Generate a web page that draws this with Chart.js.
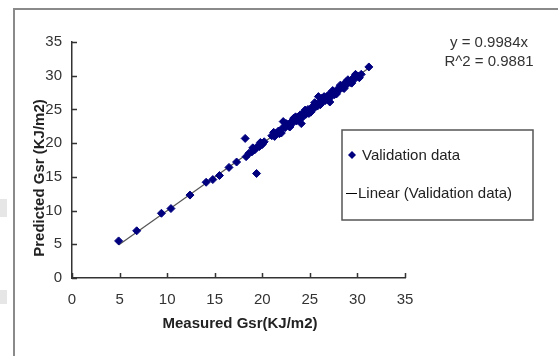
<!DOCTYPE html>
<html>
<head>
<meta charset="utf-8">
<script src="https://cdn.jsdelivr.net/npm/chart.js@4.4.1/dist/chart.umd.min.js"></script>
<style>
  html, body { margin: 0; padding: 0; background: #fff; }
  #wrap { width: 558px; height: 356px; position: relative; }
</style>
</head>
<body>
<div id="wrap"><canvas id="scatterChart" width="558" height="356"></canvas></div>
<script>
// measured vs predicted Gsr (KJ/m2)
const measured = [
  4.9, 6.8, 9.4, 10.4, 12.4, 14.1, 14.8, 15.5, 16.5, 17.3, 18.2, 19.4,
  18.3, 18.6, 18.9, 19.2, 19.4, 19.7, 20.0, 20.2, 21.0, 21.3,
  21.5, 21.7, 21.9, 22.1, 22.2, 22.4, 22.6, 22.8, 23.0, 23.2, 23.4, 23.6,
  23.8, 24.0, 24.1, 24.2, 24.4, 24.6, 24.8, 25.0, 25.2, 25.4, 25.6, 25.8,
  25.9, 26.0, 26.2, 26.4, 26.6, 26.8, 27.0, 27.1, 27.3, 27.5, 27.7, 27.9,
  28.1, 28.3, 28.5, 28.7, 28.9, 29.1, 29.3, 29.5, 29.7, 29.9, 30.1, 30.4,
  31.2,
  21.2, 21.8, 22.5, 22.9, 23.3, 23.9, 24.5, 25.1, 25.5, 26.1, 26.5, 26.9,
  27.4, 27.8, 28.2, 28.6, 29.0, 29.4, 29.8, 30.2, 22.0, 23.5, 24.9, 26.3,
  27.6, 28.8, 19.0, 19.8
];
const predicted = [
  5.5, 7.0, 9.6, 10.3, 12.3, 14.2, 14.6, 15.2, 16.4, 17.2, 20.7, 15.5,
  18.0, 18.5, 18.7, 19.0, 19.4, 19.5, 19.8, 20.2, 21.1, 21.0,
  21.5, 21.8, 21.6, 22.2, 23.2, 22.3, 22.8, 22.5, 23.1, 23.0, 23.6, 23.3,
  23.9, 24.2, 22.9, 23.8, 24.5, 24.3, 25.0, 24.7, 25.3, 25.1, 25.8, 25.5,
  26.9, 26.1, 26.0, 26.6, 26.3, 26.9, 27.2, 26.1, 27.0, 27.6, 27.4, 28.0,
  27.9, 28.4, 28.2, 28.8, 28.7, 29.2, 29.0, 29.6, 29.5, 30.0, 29.9, 30.2,
  31.3,
  21.6, 21.4, 22.9, 22.4, 23.7, 23.5, 24.9, 24.6, 26.0, 25.7, 26.9, 26.5,
  27.8, 27.3, 28.6, 28.1, 29.4, 28.9, 30.2, 29.7, 21.5, 23.9, 24.4, 26.7,
  27.2, 29.1, 19.3, 20.1
];
// linear trend y = 0.9984x, end points
const trendX = [4.9, 31.2];
const trendY = [4.89, 31.15];

const legendLabels = ["Validation data", "Linear (Validation data)"];
const equationLines = ["y = 0.9984x", "R^2 = 0.9881"];
const xTitle = "Measured Gsr(KJ/m2)";
const yTitle = "Predicted Gsr (KJ/m2)";

const FONT = "'Liberation Sans', Arial, sans-serif";
const NAVY = "#00007f";

// frame, titles, inside tick marks, equation and legend
const decorPlugin = {
  id: "decor",
  beforeDraw(chart) {
    const c = chart.ctx;
    c.save();
    c.fillStyle = "#fff";
    c.fillRect(0, 0, chart.width, chart.height);
    // grey scraps on the left edge of the screenshot
    c.fillStyle = "#e6e6e6";
    c.fillRect(0, 199, 7, 18);
    c.fillRect(0, 290, 7, 14);
    c.strokeStyle = "#8a8a8a";
    c.lineWidth = 2;
    c.beginPath();
    c.moveTo(14, chart.height + 2);
    c.lineTo(14, 9);
    c.lineTo(chart.width + 2, 9);
    c.stroke();
    c.restore();
  },
  afterDraw(chart) {
    const c = chart.ctx;
    const xs = chart.scales.x, ys = chart.scales.y;
    c.save();

    // tick marks pointing into the plot
    c.strokeStyle = "#333";
    c.lineWidth = 1.5;
    c.beginPath();
    xs.ticks.forEach(t => {
      const px = Math.round(xs.getPixelForValue(t.value)) + 0.5;
      c.moveTo(px, ys.bottom);
      c.lineTo(px, ys.bottom - 5);
    });
    ys.ticks.forEach(t => {
      const py = Math.round(ys.getPixelForValue(t.value)) + 0.5;
      c.moveTo(xs.left, py);
      c.lineTo(xs.left + 5, py);
    });
    c.stroke();

    // axis titles
    c.fillStyle = "#222";
    c.font = "bold 15px " + FONT;
    c.textAlign = "center";
    c.textBaseline = "middle";
    c.fillText(xTitle, 240, 324);
    c.save();
    c.translate(40, 178);
    c.rotate(-Math.PI / 2);
    c.fillText(yTitle, 0, 0);
    c.restore();

    // trendline equation
    c.fillStyle = "#333";
    c.font = "15px " + FONT;
    c.fillText(equationLines[0], 489, 43);
    c.fillText(equationLines[1], 489, 62);

    // legend box
    c.strokeStyle = "#555";
    c.lineWidth = 1.5;
    c.strokeRect(342, 130, 191, 90);
    const ds0 = chart.data.datasets[0];
    c.fillStyle = ds0.backgroundColor;
    c.beginPath();
    c.moveTo(352, 151); c.lineTo(356, 155); c.lineTo(352, 159); c.lineTo(348, 155);
    c.closePath();
    c.fill();
    c.strokeStyle = "#000";
    c.lineWidth = 1;
    c.beginPath();
    c.moveTo(346, 193.5); c.lineTo(357, 193.5);
    c.stroke();
    c.fillStyle = "#222";
    c.textAlign = "left";
    c.fillText(legendLabels[0], 362, 156);
    c.fillText(legendLabels[1], 358, 194);

    c.restore();
  }
};

const ctx = document.getElementById("scatterChart");
new Chart(ctx, {
  type: "scatter",
  data: {
    datasets: [
      {
        label: legendLabels[0],
        data: measured.map((x, i) => ({ x: x, y: predicted[i] })),
        pointStyle: "rectRot",
        pointRadius: 4,
        backgroundColor: NAVY,
        borderColor: NAVY,
        borderWidth: 1
      },
      {
        label: legendLabels[1],
        type: "line",
        data: trendX.map((x, i) => ({ x: x, y: trendY[i] })),
        borderColor: "#555",
        borderWidth: 1.2,
        pointRadius: 0,
        fill: false
      }
    ]
  },
  options: {
    responsive: false,
    animation: false,
    layout: { padding: { left: 0, top: 42, right: 153, bottom: 0 } },
    plugins: {
      legend: { display: false },
      tooltip: { enabled: false }
    },
    scales: {
      x: {
        type: "linear",
        min: 0,
        max: 35,
        ticks: {
          stepSize: 5,
          padding: 13,
          color: "#333",
          font: { family: FONT, size: 15 }
        },
        grid: { display: true, drawOnChartArea: false, drawTicks: false },
        border: { color: "#333", width: 1.5 },
        afterFit(scale) { scale.height = 78; }
      },
      y: {
        type: "linear",
        min: 0,
        max: 35,
        ticks: {
          stepSize: 5,
          padding: 10,
          color: "#333",
          font: { family: FONT, size: 15 }
        },
        grid: { display: true, drawOnChartArea: false, drawTicks: false },
        border: { color: "#333", width: 1.5 },
        afterFit(scale) { scale.width = 72; }
      }
    }
  },
  plugins: [decorPlugin]
});
</script>
</body>
</html>
